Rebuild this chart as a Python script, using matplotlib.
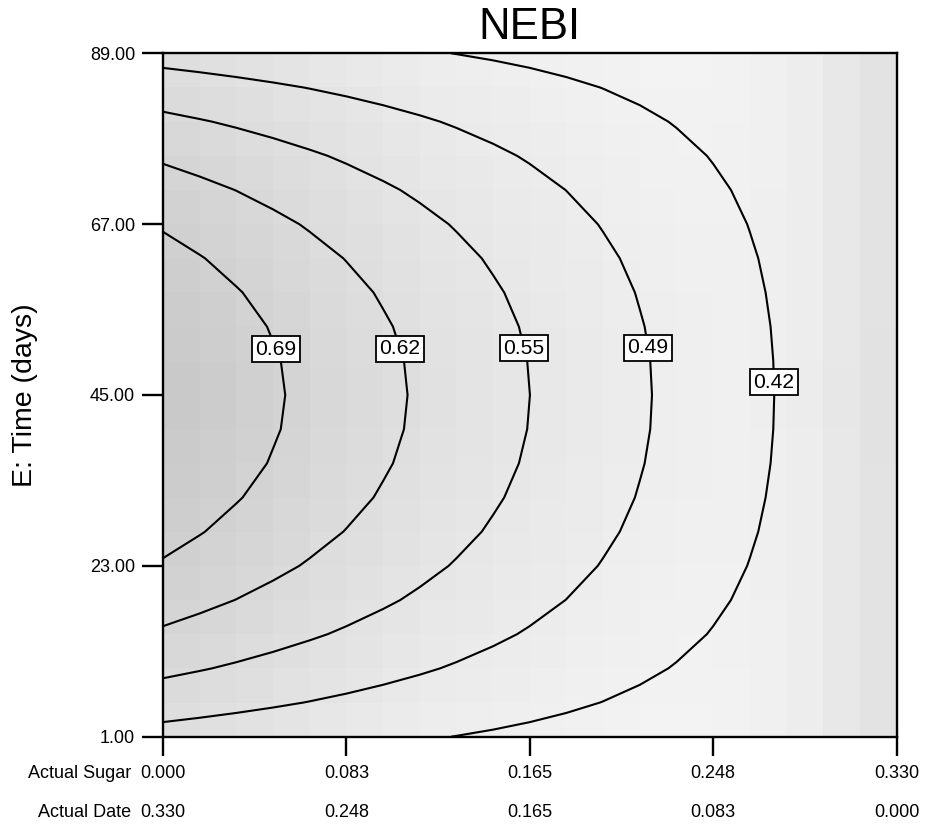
import numpy as np
import matplotlib
matplotlib.use("Agg")
import matplotlib.pyplot as plt

plt.rcParams['font.family'] = ['Liberation Sans', 'DejaVu Sans']

# ---------------- data ----------------
title = "NEBI"
y_label = "E: Time (days)"

# grid nodes (21 x 21) of the response surface
sugar_nodes = [0.0000, 0.0165, 0.0330, 0.0495, 0.0660, 0.0825, 0.0990, 0.1155, 0.1320, 0.1485,
               0.1650, 0.1815, 0.1980, 0.2145, 0.2310, 0.2475, 0.2640, 0.2805, 0.2970, 0.3135, 0.3300]
time_nodes = [1.0, 5.4, 9.8, 14.2, 18.6, 23.0, 27.4, 31.8, 36.2, 40.6, 45.0,
              49.4, 53.8, 58.2, 62.6, 67.0, 71.4, 75.8, 80.2, 84.6, 89.0]

# NEBI values, one row per time node (t = 1 ... 89), one column per sugar node
nebi = [
    [0.4630, 0.4575, 0.4520, 0.4464, 0.4409, 0.4354, 0.4299, 0.4243, 0.4188, 0.4133, 0.4078, 0.4022, 0.3967, 0.3912, 0.3857, 0.3801, 0.3746, 0.3691, 0.3636, 0.3580, 0.3525],
    [0.5185, 0.5102, 0.5019, 0.4936, 0.4853, 0.4770, 0.4687, 0.4604, 0.4521, 0.4438, 0.4355, 0.4272, 0.4189, 0.4106, 0.4023, 0.3940, 0.3857, 0.3774, 0.3691, 0.3608, 0.3525],
    [0.5681, 0.5573, 0.5466, 0.5358, 0.5250, 0.5142, 0.5034, 0.4927, 0.4819, 0.4711, 0.4603, 0.4495, 0.4387, 0.4280, 0.4172, 0.4064, 0.3956, 0.3848, 0.3741, 0.3633, 0.3525],
    [0.6119, 0.5989, 0.5860, 0.5730, 0.5600, 0.5471, 0.5341, 0.5211, 0.5082, 0.4952, 0.4822, 0.4692, 0.4563, 0.4433, 0.4303, 0.4174, 0.4044, 0.3914, 0.3784, 0.3655, 0.3525],
    [0.6499, 0.6350, 0.6201, 0.6053, 0.5904, 0.5755, 0.5607, 0.5458, 0.5309, 0.5161, 0.5012, 0.4863, 0.4715, 0.4566, 0.4417, 0.4268, 0.4120, 0.3971, 0.3822, 0.3674, 0.3525],
    [0.6820, 0.6655, 0.6491, 0.6326, 0.6161, 0.5996, 0.5832, 0.5667, 0.5502, 0.5337, 0.5173, 0.5008, 0.4843, 0.4678, 0.4514, 0.4349, 0.4184, 0.4019, 0.3855, 0.3690, 0.3525],
    [0.7083, 0.6905, 0.6727, 0.6549, 0.6371, 0.6193, 0.6015, 0.5838, 0.5660, 0.5482, 0.5304, 0.5126, 0.4948, 0.4770, 0.4592, 0.4414, 0.4237, 0.4059, 0.3881, 0.3703, 0.3525],
    [0.7287, 0.7099, 0.6911, 0.6723, 0.6535, 0.6347, 0.6159, 0.5970, 0.5782, 0.5594, 0.5406, 0.5218, 0.5030, 0.4842, 0.4654, 0.4466, 0.4277, 0.4089, 0.3901, 0.3713, 0.3525],
    [0.7433, 0.7238, 0.7042, 0.6847, 0.6652, 0.6456, 0.6261, 0.6065, 0.5870, 0.5675, 0.5479, 0.5284, 0.5088, 0.4893, 0.4697, 0.4502, 0.4307, 0.4111, 0.3916, 0.3720, 0.3525],
    [0.7521, 0.7321, 0.7121, 0.6921, 0.6722, 0.6522, 0.6322, 0.6122, 0.5922, 0.5723, 0.5523, 0.5323, 0.5123, 0.4924, 0.4724, 0.4524, 0.4324, 0.4124, 0.3925, 0.3725, 0.3525],
    [0.7550, 0.7349, 0.7148, 0.6946, 0.6745, 0.6544, 0.6343, 0.6141, 0.5940, 0.5739, 0.5538, 0.5336, 0.5135, 0.4934, 0.4733, 0.4531, 0.4330, 0.4129, 0.3928, 0.3726, 0.3525],
    [0.7521, 0.7321, 0.7121, 0.6921, 0.6722, 0.6522, 0.6322, 0.6122, 0.5922, 0.5723, 0.5523, 0.5323, 0.5123, 0.4924, 0.4724, 0.4524, 0.4324, 0.4124, 0.3925, 0.3725, 0.3525],
    [0.7433, 0.7238, 0.7042, 0.6847, 0.6652, 0.6456, 0.6261, 0.6065, 0.5870, 0.5675, 0.5479, 0.5284, 0.5088, 0.4893, 0.4697, 0.4502, 0.4307, 0.4111, 0.3916, 0.3720, 0.3525],
    [0.7287, 0.7099, 0.6911, 0.6723, 0.6535, 0.6347, 0.6159, 0.5970, 0.5782, 0.5594, 0.5406, 0.5218, 0.5030, 0.4842, 0.4654, 0.4466, 0.4277, 0.4089, 0.3901, 0.3713, 0.3525],
    [0.7083, 0.6905, 0.6727, 0.6549, 0.6371, 0.6193, 0.6015, 0.5838, 0.5660, 0.5482, 0.5304, 0.5126, 0.4948, 0.4770, 0.4592, 0.4414, 0.4237, 0.4059, 0.3881, 0.3703, 0.3525],
    [0.6820, 0.6655, 0.6491, 0.6326, 0.6161, 0.5996, 0.5832, 0.5667, 0.5502, 0.5337, 0.5173, 0.5008, 0.4843, 0.4678, 0.4514, 0.4349, 0.4184, 0.4019, 0.3855, 0.3690, 0.3525],
    [0.6499, 0.6350, 0.6201, 0.6053, 0.5904, 0.5755, 0.5607, 0.5458, 0.5309, 0.5161, 0.5012, 0.4863, 0.4715, 0.4566, 0.4417, 0.4268, 0.4120, 0.3971, 0.3822, 0.3674, 0.3525],
    [0.6119, 0.5989, 0.5860, 0.5730, 0.5600, 0.5471, 0.5341, 0.5211, 0.5082, 0.4952, 0.4822, 0.4692, 0.4563, 0.4433, 0.4303, 0.4174, 0.4044, 0.3914, 0.3784, 0.3655, 0.3525],
    [0.5681, 0.5573, 0.5466, 0.5358, 0.5250, 0.5142, 0.5034, 0.4927, 0.4819, 0.4711, 0.4603, 0.4495, 0.4387, 0.4280, 0.4172, 0.4064, 0.3956, 0.3848, 0.3741, 0.3633, 0.3525],
    [0.5185, 0.5102, 0.5019, 0.4936, 0.4853, 0.4770, 0.4687, 0.4604, 0.4521, 0.4438, 0.4355, 0.4272, 0.4189, 0.4106, 0.4023, 0.3940, 0.3857, 0.3774, 0.3691, 0.3608, 0.3525],
    [0.4630, 0.4575, 0.4520, 0.4464, 0.4409, 0.4354, 0.4299, 0.4243, 0.4188, 0.4133, 0.4078, 0.4022, 0.3967, 0.3912, 0.3857, 0.3801, 0.3746, 0.3691, 0.3636, 0.3580, 0.3525],
]

contour_levels = [0.4196, 0.4867, 0.5537, 0.6208, 0.6879]
# where the boxed labels sit (sugar, time)
label_positions = [(0.0525, 51.1), (0.1081, 51.1), (0.1634, 51.1), (0.2189, 51.1), (0.2746, 46.65)]

sugar_ticks = [0.0, 0.0825, 0.165, 0.2475, 0.33]
sugar_tick_labels = ["0.000", "0.083", "0.165", "0.248", "0.330"]
date_tick_labels = ["0.330", "0.248", "0.165", "0.083", "0.000"]
time_ticks = [1, 23, 45, 67, 89]
time_tick_labels = ["1.00", "23.00", "45.00", "67.00", "89.00"]

# background gray levels of the 20 x 20 cells (0-255)
shade_top = [223, 225, 227, 229, 231, 233, 235, 237, 238, 239, 240, 241, 242, 243, 243, 242, 240, 237, 232, 227]
shade_mid = [200, 203, 207, 211, 215, 218, 221, 224, 227, 229, 231, 233, 235, 237, 238, 239, 238, 236, 231, 226]
row_blend = [0.05, 0.20, 0.33, 0.45, 0.56, 0.66, 0.75, 0.83, 0.90, 0.97,
             0.97, 0.90, 0.83, 0.75, 0.66, 0.56, 0.45, 0.33, 0.20, 0.05]

# ---------------- figure ----------------
fig = plt.figure(figsize=(9.25, 8.24), dpi=100)
ax = fig.add_axes([0.17622, 0.10595, 0.79297, 0.82937])

X = np.array(sugar_nodes)
Y = np.array(time_nodes)
Z = np.array(nebi)

top = np.array(shade_top, dtype=float)
mid = np.array(shade_mid, dtype=float)
blend = np.array(row_blend, dtype=float)
shade = top[None, :] + (mid - top)[None, :] * blend[:, None]
ax.pcolormesh(X, Y, shade, cmap="gray", vmin=0, vmax=255, shading="flat", zorder=0)

cs = ax.contour(X, Y, Z, levels=contour_levels, colors="black", linewidths=1.5, zorder=2)
labels = ax.clabel(cs, fmt="%.2f", fontsize=15.2, inline=False, manual=label_positions)
for t in labels:
    t.set_rotation(0)
    t.set_zorder(5)
    t.set_bbox(dict(boxstyle="square,pad=0.17", facecolor="white", edgecolor="black", linewidth=1.3))

ax.set_xlim(0, 0.33)
ax.set_ylim(1, 89)

for sp in ax.spines.values():
    sp.set_linewidth(1.7)
    sp.set_zorder(6)

ax.set_yticks(time_ticks)
ax.set_yticklabels(time_tick_labels)
ax.tick_params(axis="y", direction="out", length=14.8, width=1.7, pad=5.2, labelsize=13)
ax.set_xticks(sugar_ticks)
ax.set_xticklabels([])
ax.tick_params(axis="x", direction="out", length=13.7, width=1.7)

for xv, s_lab, d_lab in zip(sugar_ticks, sugar_tick_labels, date_tick_labels):
    ax.annotate(s_lab, xy=(xv, 0), xycoords=("data", "axes fraction"),
                xytext=(0, -30.0), textcoords="offset points",
                ha="center", va="baseline", fontsize=13)
    ax.annotate(d_lab, xy=(xv, 0), xycoords=("data", "axes fraction"),
                xytext=(0, -58.0), textcoords="offset points",
                ha="center", va="baseline", fontsize=13)

ax.annotate("Actual Sugar", xy=(0, 0), xycoords=("data", "axes fraction"),
            xytext=(-23, -30.0), textcoords="offset points",
            ha="right", va="baseline", fontsize=13)
ax.annotate("Actual Date", xy=(0, 0), xycoords=("data", "axes fraction"),
            xytext=(-23, -58.0), textcoords="offset points",
            ha="right", va="baseline", fontsize=13)

ax.set_title(title, fontsize=31.5, pad=10)
ax.set_ylabel(y_label, fontsize=20.5)
ax.yaxis.set_label_coords(-0.170, 0.5)

fig.savefig("out.png", dpi=100)
